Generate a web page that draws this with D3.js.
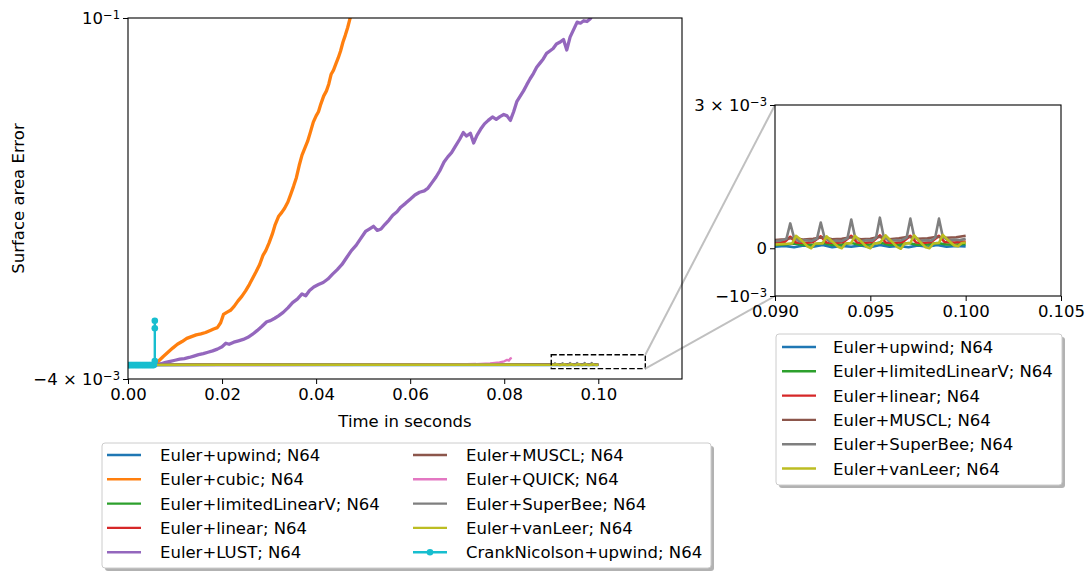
<!DOCTYPE html>
<html><head><meta charset="utf-8">
<script src="https://cdn.jsdelivr.net/npm/d3@7"></script>
<style>
body{margin:0;background:#fff;}
svg{display:block;font-family:"DejaVu Sans",sans-serif;}
</style></head>
<body><svg id="c" width="1090" height="571"></svg>
<script>
// ---------------- DATA ----------------
const seriesNames = ["Euler+upwind; N64","Euler+cubic; N64","Euler+limitedLinearV; N64","Euler+linear; N64","Euler+LUST; N64","Euler+MUSCL; N64","Euler+QUICK; N64","Euler+SuperBee; N64","Euler+vanLeer; N64","CrankNicolson+upwind; N64"];
const seriesColors = ["#1f77b4","#ff7f0e","#2ca02c","#d62728","#9467bd","#8c564b","#e377c2","#7f7f7f","#bcbd22","#17becf"];
const insetNames = ["Euler+upwind; N64","Euler+limitedLinearV; N64","Euler+linear; N64","Euler+MUSCL; N64","Euler+SuperBee; N64","Euler+vanLeer; N64"];

const xTicksMain = [0,0.02,0.04,0.06,0.08,0.10];
const xTickLabelsMain = ["0.00","0.02","0.04","0.06","0.08","0.10"];
const yTicksMain = [-0.004,0.1];
const xTicksInset = [0.090,0.095,0.100,0.105];
const xTickLabelsInset = ["0.090","0.095","0.100","0.105"];
const yTicksInset = [-0.001,0,0.003];

const upwind = [[0,0],[0.006,0.00002],[0.02,0.00003],[0.04,0.00002],[0.06,0.00004],[0.08,0.00003],[0.0900,0.00003],[0.0905,0.00005],[0.0910,0.00002],[0.0915,0.00006],[0.0920,0.00003],[0.0925,0.00007],[0.0930,0.00002],[0.0935,0.00005],[0.0940,0.00003],[0.0945,0.00006],[0.0950,0.00002],[0.0955,0.00007],[0.0960,0.00003],[0.0965,0.00005],[0.0970,0.00002],[0.0975,0.00006],[0.0980,0.00003],[0.0985,0.00007],[0.0990,0.00003],[0.0995,0.00005],[0.1000,0.00004]];

const cubic = [[0,0],[0.0058,0.0000],[0.0065,0.0012],[0.0075,0.0025],[0.0085,0.0037],[0.0095,0.0049],[0.0105,0.0060],[0.0115,0.0068],[0.0125,0.0077],[0.0135,0.0082],[0.0145,0.0087],[0.0155,0.0090],[0.0165,0.0094],[0.0175,0.0100],[0.0182,0.0104],[0.0190,0.0108],[0.0197,0.0122],[0.0203,0.0146],[0.0210,0.0152],[0.0218,0.0158],[0.0226,0.0170],[0.0234,0.0185],[0.0242,0.0198],[0.0250,0.0214],[0.0258,0.0232],[0.0265,0.0250],[0.0272,0.0268],[0.0280,0.0290],[0.0287,0.0316],[0.0293,0.0330],[0.0300,0.0352],[0.0307,0.0378],[0.0313,0.0405],[0.0320,0.0428],[0.0327,0.0440],[0.0333,0.0452],[0.0340,0.0470],[0.0346,0.0492],[0.0352,0.0515],[0.0358,0.0540],[0.0364,0.0575],[0.0370,0.0605],[0.0376,0.0625],[0.0382,0.0645],[0.0388,0.0672],[0.0394,0.0700],[0.0400,0.0718],[0.0405,0.0730],[0.0410,0.0752],[0.0416,0.0775],[0.0422,0.0790],[0.0427,0.0810],[0.0432,0.0838],[0.0437,0.0850],[0.0442,0.0868],[0.0447,0.0885],[0.0452,0.0905],[0.0457,0.0930],[0.0462,0.0950],[0.0467,0.0972],[0.0472,0.0998],[0.0478,0.1025]];

const limitedLinearV = [[0,0],[0.006,0.00005],[0.02,0.00007],[0.04,0.00008],[0.06,0.00007],[0.08,0.00008],[0.0900,0.00007],[0.0905,0.00008],[0.0910,0.00010],[0.0915,0.00007],[0.0920,0.00008],[0.0925,0.00011],[0.0930,0.00007],[0.0935,0.00008],[0.0940,0.00011],[0.0945,0.00007],[0.0950,0.00008],[0.0955,0.00012],[0.0960,0.00007],[0.0965,0.00008],[0.0970,0.00011],[0.0975,0.00007],[0.0980,0.00008],[0.0985,0.00011],[0.0990,0.00008],[0.0995,0.00008],[0.1000,0.00009]];

const linear = [[0,0],[0.006,0.00008],[0.02,0.00010],[0.04,0.00012],[0.06,0.00011],[0.08,0.00012],[0.0900,0.00012],[0.0905,0.00013],[0.0908,0.00024],[0.0911,0.00012],[0.0916,0.00011],[0.0920,0.00013],[0.0924,0.00025],[0.0927,0.00012],[0.0932,0.00011],[0.0936,0.00013],[0.0940,0.00026],[0.0943,0.00012],[0.0947,0.00011],[0.0951,0.00013],[0.0955,0.00027],[0.0958,0.00012],[0.0963,0.00011],[0.0967,0.00013],[0.0971,0.00026],[0.0974,0.00012],[0.0978,0.00011],[0.0982,0.00013],[0.0986,0.00026],[0.0989,0.00013],[0.0994,0.00012],[0.1000,0.00014]];

const LUST = [[0,0],[0.0058,0.0000],[0.0070,0.0004],[0.0080,0.0008],[0.0090,0.0011],[0.0100,0.0014],[0.0110,0.0017],[0.0120,0.0019],[0.0130,0.0022],[0.0140,0.0026],[0.0150,0.0030],[0.0160,0.0033],[0.0170,0.0037],[0.0180,0.0041],[0.0190,0.0046],[0.0200,0.0053],[0.0208,0.0063],[0.0215,0.0060],[0.0225,0.0066],[0.0235,0.0070],[0.0245,0.0074],[0.0255,0.0080],[0.0265,0.0089],[0.0275,0.0100],[0.0285,0.0112],[0.0295,0.0125],[0.0303,0.0128],[0.0312,0.0135],[0.0320,0.0142],[0.0330,0.0152],[0.0340,0.0165],[0.0350,0.0180],[0.0360,0.0190],[0.0370,0.0205],[0.0378,0.0200],[0.0386,0.0215],[0.0395,0.0225],[0.0405,0.0232],[0.0415,0.0238],[0.0425,0.0248],[0.0435,0.0262],[0.0445,0.0275],[0.0455,0.0290],[0.0465,0.0310],[0.0475,0.0330],[0.0485,0.0345],[0.0495,0.0365],[0.0505,0.0385],[0.0513,0.0392],[0.0522,0.0400],[0.0530,0.0388],[0.0538,0.0392],[0.0546,0.0405],[0.0555,0.0418],[0.0563,0.0432],[0.0572,0.0442],[0.0580,0.0455],[0.0590,0.0466],[0.0600,0.0478],[0.0610,0.0490],[0.0620,0.0498],[0.0630,0.0502],[0.0638,0.0510],[0.0646,0.0525],[0.0655,0.0542],[0.0663,0.0560],[0.0672,0.0585],[0.0680,0.0600],[0.0688,0.0612],[0.0696,0.0630],[0.0705,0.0650],[0.0713,0.0670],[0.0720,0.0660],[0.0728,0.0668],[0.0735,0.0640],[0.0742,0.0662],[0.0750,0.0680],[0.0758,0.0695],[0.0766,0.0705],[0.0775,0.0715],[0.0783,0.0708],[0.0791,0.0716],[0.0799,0.0722],[0.0806,0.0718],[0.0813,0.0705],[0.0820,0.0730],[0.0827,0.0760],[0.0834,0.0775],[0.0841,0.0790],[0.0848,0.0808],[0.0855,0.0825],[0.0862,0.0840],[0.0869,0.0858],[0.0876,0.0870],[0.0883,0.0882],[0.0890,0.0898],[0.0897,0.0905],[0.0904,0.0912],[0.0911,0.0925],[0.0918,0.0930],[0.0926,0.0938],[0.0933,0.0908],[0.0940,0.0945],[0.0947,0.0965],[0.0955,0.0988],[0.0962,0.0985],[0.0969,0.0992],[0.0976,0.0990],[0.0983,0.0998],[0.0990,0.1015]];

const MUSCL = [[0,0],[0.006,0.00012],[0.02,0.00016],[0.04,0.00018],[0.06,0.00017],[0.08,0.00019],[0.0900,0.00017],[0.0905,0.00019],[0.0910,0.00022],[0.0915,0.00018],[0.0920,0.00020],[0.0925,0.00023],[0.0930,0.00019],[0.0935,0.00020],[0.0940,0.00023],[0.0945,0.00019],[0.0950,0.00020],[0.0955,0.00024],[0.0960,0.00019],[0.0965,0.00021],[0.0970,0.00024],[0.0975,0.00020],[0.0980,0.00021],[0.0985,0.00024],[0.0990,0.00022],[0.0995,0.00023],[0.1000,0.00026]];

const QUICK = [[0,0],[0.01,0.00002],[0.03,0.00005],[0.05,0.00010],[0.06,0.00015],[0.07,0.00020],[0.074,0.00030],[0.077,0.00050],[0.079,0.00080],[0.0800,0.00110],[0.0806,0.00150],[0.0810,0.00130],[0.0813,0.00190],[0.0816,0.00210]];

const SuperBee = [[0,0],[0.006,0.00012],[0.02,0.00015],[0.04,0.00016],[0.06,0.00015],[0.08,0.00016],[0.0900,0.00015],[0.0903,0.00016],[0.0906,0.00020],[0.0908,0.00052],[0.0910,0.00022],[0.0913,0.00014],[0.0916,0.00017],[0.0919,0.00015],[0.0922,0.00020],[0.0924,0.00054],[0.0926,0.00022],[0.0929,0.00014],[0.0932,0.00016],[0.0935,0.00015],[0.0938,0.00021],[0.0940,0.00060],[0.0942,0.00023],[0.0945,0.00014],[0.0948,0.00017],[0.0951,0.00016],[0.0953,0.00022],[0.0955,0.00064],[0.0957,0.00024],[0.0960,0.00015],[0.0963,0.00017],[0.0966,0.00016],[0.0969,0.00022],[0.0971,0.00062],[0.0973,0.00024],[0.0976,0.00015],[0.0979,0.00017],[0.0982,0.00016],[0.0984,0.00022],[0.0986,0.00062],[0.0988,0.00024],[0.0991,0.00016],[0.0994,0.00018],[0.0997,0.00017],[0.1000,0.00020]];

const vanLeer = [[0,0],[0.006,0.00008],[0.02,0.00009],[0.04,0.00010],[0.06,0.00009],[0.08,0.00010],[0.0900,0.00008],[0.0905,0.00009],[0.0909,0.00010],[0.0911,0.00026],[0.0914,0.00016],[0.0917,0.00004],[0.0919,0.00000],[0.0921,0.00010],[0.0925,0.00010],[0.0927,0.00025],[0.0930,0.00014],[0.0933,0.00003],[0.0935,0.00000],[0.0937,0.00010],[0.0940,0.00011],[0.0942,0.00026],[0.0945,0.00015],[0.0948,0.00003],[0.0950,0.00000],[0.0952,0.00010],[0.0955,0.00011],[0.0958,0.00027],[0.0961,0.00015],[0.0964,0.00003],[0.0966,-0.00001],[0.0968,0.00010],[0.0971,0.00011],[0.0973,0.00027],[0.0976,0.00014],[0.0979,0.00002],[0.0981,0.00000],[0.0983,0.00010],[0.0986,0.00011],[0.0988,0.00028],[0.0991,0.00016],[0.0994,0.00006],[0.0996,0.00004],[0.0998,0.00011],[0.1000,0.00012]];

const CrankNicolson = [[0,0],[0.00025,0],[0.0005,0],[0.00075,0],[0.001,0],[0.00125,0],[0.0015,0],[0.00175,0],[0.002,0],[0.00225,0],[0.0025,0],[0.00275,0],[0.003,0],[0.00325,0],[0.0035,0],[0.00375,0],[0.004,0],[0.00425,0],[0.0045,0],[0.00475,0],[0.005,0],[0.00525,0],[0.0055,0],[0.0057,0.0012],[0.0057,0.0106],[0.0057,0.0128]];

const allSeries = [upwind,cubic,limitedLinearV,linear,LUST,MUSCL,QUICK,SuperBee,vanLeer,CrankNicolson];
const insetSeries = [upwind,limitedLinearV,linear,MUSCL,SuperBee,vanLeer];
const insetColors = ["#1f77b4","#2ca02c","#d62728","#8c564b","#7f7f7f","#bcbd22"];

// ---------------- DRAW ----------------
const svg = d3.select("#c");
const FS = 16.5;
const M = {l:128, r:682, t:18, b:379};
const I = {l:775, r:1061, t:105, b:296};

const x = d3.scaleLinear().domain([0,0.1178]).range([M.l,M.r]);
const y = d3.scaleLinear().domain([-0.004,0.1]).range([M.b,M.t]);
const xi = d3.scaleLinear().domain([0.09,0.105]).range([I.l,I.r]);
const yi = d3.scaleLinear().domain([-0.001,0.003]).range([I.b,I.t]);

const defs = svg.append("defs");
defs.append("clipPath").attr("id","cm").append("rect").attr("x",M.l).attr("y",M.t).attr("width",M.r-M.l).attr("height",M.b-M.t);
defs.append("clipPath").attr("id","ci").append("rect").attr("x",I.l).attr("y",I.t).attr("width",I.r-I.l).attr("height",I.b-I.t);

function sci(textSel, mant, exp){
  textSel.append("tspan").text(mant);
  textSel.append("tspan").attr("dy","-0.45em").attr("font-size",FS*0.7).text(exp);
}

// Main lines
const lineMain = d3.line().x(d=>x(d[0])).y(d=>y(d[1]));
const gm = svg.append("g").attr("clip-path","url(#cm)");
allSeries.forEach((s,i)=>{
  const w = (i===1||i===4) ? 3.3 : 2.4;
  gm.append("path").datum(s).attr("d",lineMain).attr("fill","none")
    .attr("stroke",seriesColors[i]).attr("stroke-width",w).attr("stroke-linejoin","round");
});
gm.selectAll("circle.cn").data(CrankNicolson).enter().append("circle")
  .attr("cx",d=>x(d[0])).attr("cy",d=>y(d[1])).attr("r",3.3).attr("fill",seriesColors[9]);

// zoom rectangle
svg.append("rect").attr("x",x(0.09)).attr("y",y(0.003)).attr("width",x(0.11)-x(0.09)).attr("height",y(-0.001)-y(0.003))
  .attr("fill","none").attr("stroke","#000").attr("stroke-width",1.4).attr("stroke-dasharray","5.5,2.4");

// connectors
svg.append("line").attr("x1",x(0.11)).attr("y1",y(0.003)).attr("x2",I.l).attr("y2",I.t).attr("stroke","#c0c0c0").attr("stroke-width",2);
svg.append("line").attr("x1",x(0.11)).attr("y1",y(-0.001)).attr("x2",I.l).attr("y2",I.b).attr("stroke","#c0c0c0").attr("stroke-width",2);

// main frame
svg.append("rect").attr("x",M.l).attr("y",M.t).attr("width",M.r-M.l).attr("height",M.b-M.t).attr("fill","none").attr("stroke","#000").attr("stroke-width",1.1);

// main x axis
const gx = svg.append("g").attr("transform",`translate(0,${M.b})`)
  .call(d3.axisBottom(x).tickValues(xTicksMain).tickFormat((d,i)=>xTickLabelsMain[i]).tickSizeOuter(0).tickSize(5).tickPadding(4));
gx.select(".domain").remove();
gx.selectAll("text").attr("font-size",FS).attr("font-family","DejaVu Sans").attr("fill","#000");
gx.selectAll("line").attr("stroke","#000");

// main y axis ticks
const gy = svg.append("g").attr("transform",`translate(${M.l},0)`)
  .call(d3.axisLeft(y).tickValues(yTicksMain).tickFormat("").tickSizeOuter(0).tickSize(5));
gy.select(".domain").remove();
gy.selectAll("line").attr("stroke","#000");
sci(svg.append("text").attr("x",M.l-8).attr("y",y(-0.004)+6).attr("text-anchor","end").attr("font-size",FS), "−4 × 10", "−3");
sci(svg.append("text").attr("x",M.l-8).attr("y",y(0.1)+6).attr("text-anchor","end").attr("font-size",FS), "10", "−1");

// labels
svg.append("text").attr("x",(M.l+M.r)/2).attr("y",427).attr("text-anchor","middle").attr("font-size",FS).text("Time in seconds");
svg.append("text").attr("transform",`translate(24,${(M.t+M.b)/2}) rotate(-90)`).attr("text-anchor","middle").attr("font-size",FS).text("Surface area Error");

// inset
const lineInset = d3.line().x(d=>xi(d[0])).y(d=>yi(d[1]));
const gi = svg.append("g").attr("clip-path","url(#ci)");
insetSeries.forEach((s,i)=>{
  gi.append("path").datum(s).attr("d",lineInset).attr("fill","none")
    .attr("stroke",insetColors[i]).attr("stroke-width",2.6).attr("stroke-linejoin","round");
});
svg.append("rect").attr("x",I.l).attr("y",I.t).attr("width",I.r-I.l).attr("height",I.b-I.t).attr("fill","none").attr("stroke","#000").attr("stroke-width",1.1);
const gxi = svg.append("g").attr("transform",`translate(0,${I.b})`)
  .call(d3.axisBottom(xi).tickValues(xTicksInset).tickFormat((d,i)=>xTickLabelsInset[i]).tickSizeOuter(0).tickSize(5).tickPadding(4));
gxi.select(".domain").remove();
gxi.selectAll("text").attr("font-size",FS).attr("font-family","DejaVu Sans").attr("fill","#000");
gxi.selectAll("line").attr("stroke","#000");
const gyi = svg.append("g").attr("transform",`translate(${I.l},0)`)
  .call(d3.axisLeft(yi).tickValues(yTicksInset).tickFormat("").tickSizeOuter(0).tickSize(5));
gyi.select(".domain").remove();
gyi.selectAll("line").attr("stroke","#000");
sci(svg.append("text").attr("x",I.l-8).attr("y",yi(0.003)+6).attr("text-anchor","end").attr("font-size",FS), "3 × 10", "−3");
svg.append("text").attr("x",I.l-8).attr("y",yi(0)+6).attr("text-anchor","end").attr("font-size",FS).text("0");
sci(svg.append("text").attr("x",I.l-8).attr("y",yi(-0.001)+6).attr("text-anchor","end").attr("font-size",FS), "−10", "−3");

// legends
function legendBox(bx,by,bw,bh){
  svg.append("rect").attr("x",bx+3).attr("y",by+3).attr("width",bw).attr("height",bh).attr("rx",3).attr("fill","#7f7f7f").attr("opacity",0.6);
  svg.append("rect").attr("x",bx).attr("y",by).attr("width",bw).attr("height",bh).attr("rx",3).attr("fill","#fff").attr("stroke","#cccccc").attr("stroke-width",1);
}
function legendItem(hx,cy,tx,name,color,marker){
  svg.append("line").attr("x1",hx).attr("x2",hx+34).attr("y1",cy).attr("y2",cy).attr("stroke",color).attr("stroke-width",2.4);
  if(marker) svg.append("circle").attr("cx",hx+17).attr("cy",cy).attr("r",3.3).attr("fill",color);
  svg.append("text").attr("x",tx).attr("y",cy+6).attr("font-size",FS).text(name);
}
legendBox(102,443,609,125);
seriesNames.forEach((n,i)=>{
  const col = Math.floor(i/5), row = i%5;
  const hx = col===0 ? 107 : 413;
  const tx = col===0 ? 160 : 466;
  legendItem(hx, 455+row*24.3, tx, n, seriesColors[i], i===9);
});
legendBox(776,334,286,151);
insetNames.forEach((n,i)=>{
  legendItem(782, 347+i*24.3, 833, n, insetColors[i], false);
});
</script></body></html>
